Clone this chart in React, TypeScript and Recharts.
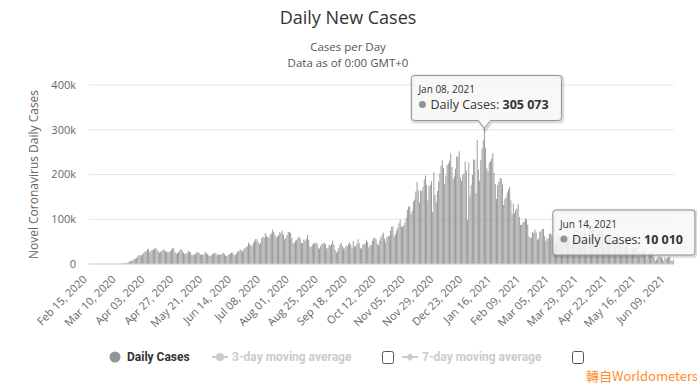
import { BarChart, Bar, XAxis, YAxis, CartesianGrid, ReferenceDot } from "recharts"

// first day shown in the chart, one bar per day after it
const START_DATE = Date.UTC(2020, 1, 15)
const MONTHS = ["Jan", "Feb", "Mar", "Apr", "May", "Jun", "Jul", "Aug", "Sep", "Oct", "Nov", "Dec"]

// daily new cases in thousands, one row per week (Sat..Fri)
const dailyCases = [
  0, 0, 0, 0, 0, 0, 0,
  0, 0, 0.02, 0, 0, 0.01, 0.01,
  0.01, 0.01, 0.02, 0.03, 0.03, 0.06, 0.07,
  0.13, 0.12, 0.18, 0.29, 0.43, 0.56, 0.89,
  0.8, 1.0, 1.8, 2.0, 3.8, 4.9, 5.9,
  7.1, 9.4, 10.5, 11.5, 13.2, 17.2, 19.6,
  19.5, 18.8, 21.6, 25.0, 27.1, 28.8, 32.4,
  34.0, 25.7, 29.6, 31.5, 32.2, 33.9, 35.5,
  31.9, 27.8, 25.3, 27.5, 29.5, 31.5, 33.0,
  28.9, 26.6, 27.0, 26.1, 29.0, 31.9, 36.0,
  35.0, 26.5, 22.4, 24.8, 26.9, 30.5, 33.4,
  29.1, 25.4, 22.6, 23.6, 24.5, 29.4, 27.2,
  25.8, 20.3, 19.3, 22.2, 21.6, 26.4, 26.3,
  24.6, 19.9, 21.8, 20.5, 21.7, 27.1, 24.2,
  22.0, 19.1, 18.6, 19.1, 22.3, 22.7, 25.5,
  24.0, 19.9, 21.5, 20.6, 20.6, 22.1, 24.9,
  22.6, 17.8, 18.4, 19.7, 22.5, 23.5, 25.8,
  25.1, 19.8, 20.2, 24.3, 27.7, 28.6, 31.7,
  32.0, 26.6, 31.7, 35.7, 38.2, 40.4, 47.3,
  44.5, 41.6, 40.4, 47.0, 51.7, 55.7, 55.4,
  49.2, 43.4, 47.0, 57.3, 61.7, 58.7, 69.0,
  62.7, 60.4, 58.6, 65.5, 68.8, 76.8, 71.6,
  64.6, 59.2, 62.1, 64.2, 71.0, 69.3, 74.8,
  66.1, 55.2, 58.8, 64.7, 72.2, 71.5, 69.1,
  57.9, 47.5, 46.8, 51.8, 53.9, 58.6, 61.0,
  56.7, 47.3, 46.5, 54.3, 51.9, 56.4, 64.6,
  54.1, 39.1, 38.8, 43.1, 46.2, 45.5, 48.7,
  45.0, 36.2, 34.2, 40.2, 44.5, 45.7, 47.6,
  43.9, 34.9, 36.5, 42.4, 40.8, 44.8, 51.9,
  43.0, 31.1, 25.2, 28.5, 35.9, 43.0, 47.6,
  40.1, 34.4, 34.6, 40.6, 39.4, 44.8, 49.3,
  43.1, 36.3, 52.0, 39.6, 39.6, 44.3, 55.4,
  46.3, 34.6, 35.3, 43.4, 44.3, 45.6, 54.4,
  49.0, 37.4, 41.1, 43.2, 52.0, 58.6, 58.3,
  54.5, 45.1, 42.1, 52.4, 59.1, 65.3, 70.0,
  56.6, 48.8, 59.2, 62.1, 62.9, 75.1, 83.8,
  83.7, 60.8, 66.8, 74.3, 80.2, 91.2, 99.3,
  83.4, 84.0, 86.3, 92.7, 104.0, 121.0, 129.0,
  128.0, 111.0, 119.0, 139.0, 144.0, 162.0, 183.0,
  165.0, 138.0, 164.0, 163.0, 172.0, 189.0, 198.0,
  177.0, 142.0, 174.0, 177.0, 185.0, 116.0, 205.0,
  154.0, 138.0, 163.0, 184.0, 203.0, 220.0, 232.0,
  214.0, 179.0, 197.0, 221.0, 225.0, 231.0, 247.0,
  217.0, 190.0, 196.0, 213.0, 240.0, 240.0, 252.0,
  194.0, 186.0, 199.0, 202.0, 229.0, 209.0, 99.0,
  226.0, 153.0, 177.0, 199.0, 234.0, 232.0, 158.0,
  277.0, 211.0, 186.0, 233.0, 258.0, 276.0, 305.073,
  260.0, 214.0, 207.0, 226.0, 230.0, 236.0, 248.0,
  204.0, 178.0, 145.0, 176.0, 183.0, 192.0, 191.0,
  178.0, 132.0, 145.0, 149.0, 160.0, 167.0, 172.0,
  142.0, 111.0, 135.0, 114.0, 121.0, 124.0, 134.0,
  105.0, 87.0, 88.0, 93.0, 95.0, 102.0, 100.0,
  88.0, 62.0, 58.0, 60.0, 72.0, 69.0, 77.0,
  71.0, 55.0, 57.0, 72.0, 73.0, 78.0, 78.0,
  62.0, 52.0, 57.0, 57.0, 67.0, 68.0, 65.0,
  58.0, 40.0, 45.0, 56.0, 58.0, 65.0, 60.0,
  54.0, 38.0, 52.0, 56.0, 59.0, 58.0, 63.0,
  50.0, 34.0, 57.0, 54.0, 86.0, 67.0, 77.0,
  63.0, 43.0, 69.0, 62.0, 66.0, 76.0, 70.0,
  54.0, 32.0, 77.0, 61.0, 75.0, 80.0, 79.0,
  64.0, 44.0, 70.0, 76.0, 74.0, 74.0, 77.0,
  49.0, 35.0, 68.0, 61.0, 62.0, 63.0, 63.0,
  47.0, 33.0, 53.0, 51.0, 55.0, 58.0, 56.0,
  39.0, 25.0, 45.0, 37.0, 45.0, 49.0, 48.0,
  30.0, 19.0, 34.0, 32.0, 37.0, 36.0, 37.0,
  25.0, 17.0, 27.0, 26.0, 29.0, 29.0, 31.0,
  22.0, 13.0, 23.0, 23.0, 26.0, 25.0, 21.0,
  14.0, 7.0, 10.0, 14.0, 17.0, 17.0, 15.0,
  12.0, 6.0, 14.0, 11.0, 14.0, 15.0, 16.0,
  8.0, 5.0, 10.01,
]

const yTicks = [0, 100, 200, 300, 400]

// tooltips that are shown open in the picture
const HIGHLIGHTS = ["Jan 08, 2021", "Jun 14, 2021"]

const fmtDate = (i: number) => {
  const d = new Date(START_DATE + i * 86400000)
  return `${MONTHS[d.getUTCMonth()]} ${String(d.getUTCDate()).padStart(2, "0")}, ${d.getUTCFullYear()}`
}

const rows = dailyCases.map((cases, i) => ({ date: fmtDate(i), cases }))
const valueOn = (date: string) => rows.find((r) => r.date === date)!.cases

const fmtCount = (v: number) =>
  String(Math.round(v * 1000)).replace(/\B(?=(\d{3})+(?!\d))/g, " ")

const BAR = "#949494"
const FONT = "'Open Sans', sans-serif"

function XTick({ x, y, payload }: any) {
  const tx = x - 2
  const ty = y + 16
  return (
    <text x={tx} y={ty} transform={`rotate(-45 ${tx} ${ty})`} textAnchor="end" fill="#666" fontSize={11} fontFamily={FONT}>
      {payload.value}
    </text>
  )
}

function YTitle({ viewBox }: any) {
  const x = viewBox.x + 33
  const y = viewBox.y + viewBox.height / 2
  return (
    <text x={x} y={y} transform={`rotate(-90 ${x} ${y})`} textAnchor="middle" dominantBaseline="central" fill="#666" fontSize={12} fontFamily={FONT}>
      Novel Coronavirus Daily Cases
    </text>
  )
}

function boxPath(x: number, y: number, w: number, h: number, px?: number) {
  const r = 3
  const b = y + h
  const bottom = px !== undefined ? `H${px + 6} L${px} ${b + 8} L${px - 6} ${b} ` : ""
  return `M${x + r} ${y} H${x + w - r} Q${x + w} ${y} ${x + w} ${y + r} V${b - r} Q${x + w} ${b} ${x + w - r} ${b} ${bottom}H${x + r} Q${x} ${b} ${x} ${b - r} V${y + r} Q${x} ${y} ${x + r} ${y} Z`
}

function TipBox({ cx, cy, date, value, dx, dy, w, pointer }: any) {
  const x = cx + dx
  const y = cy + dy
  const d = boxPath(x, y, w, 45, pointer ? cx : undefined)
  return (
    <g fontFamily={FONT}>
      <path d={d} transform="translate(1 1)" fill="none" stroke="#000" strokeOpacity={0.05} strokeWidth={5} />
      <path d={d} transform="translate(1 1)" fill="none" stroke="#000" strokeOpacity={0.1} strokeWidth={3} />
      <path d={d} fill="rgba(247,247,247,0.85)" stroke={BAR} strokeWidth={1} />
      <text x={x + 7} y={y + 17.5} fontSize={10} fill="#333">{date}</text>
      <circle cx={x + 11} cy={y + 29} r={3.5} fill={BAR} />
      <text x={x + 19} y={y + 34} fontSize={12.5} fill="#333">
        Daily Cases: <tspan fontWeight="bold">{fmtCount(value)}</tspan>
      </text>
    </g>
  )
}

function Overlay() {
  return (
    <svg width={697} height={388} style={{ position: "absolute", left: 0, top: 0, pointerEvents: "none" }}>
      <text x={348} y={24} textAnchor="middle" fontSize={18} fill="#333" fontFamily={FONT}>Daily New Cases</text>
      <text x={348} y={51} textAnchor="middle" fontSize={11.5} fill="#555" fontFamily={FONT}>Cases per Day</text>
      <text x={348} y={67} textAnchor="middle" fontSize={11.5} fill="#555" fontFamily={FONT}>Data as of 0:00 GMT+0</text>
      <g fontFamily="Roboto, sans-serif" fontSize={12} fontWeight="bold">
        <circle cx={115} cy={357} r={5.5} fill={BAR} />
        <text x={127} y={361} fill="#333">Daily Cases</text>
        <line x1={212} x2={228} y1={357} y2={357} stroke="#ccc" strokeWidth={2} />
        <circle cx={220} cy={357} r={4} fill="#ccc" />
        <text x={232} y={361} fill="#ccc">3-day moving average</text>
        <rect x={382.5} y={351.5} width={11} height={12} rx={2} fill="#fff" stroke="#555" />
        <line x1={402} x2={418} y1={357} y2={357} stroke="#ccc" strokeWidth={2} />
        <path d="M410 353 L414 357 L410 361 L406 357 Z" fill="#ccc" />
        <text x={422} y={361} fill="#ccc">7-day moving average</text>
        <rect x={572.5} y={351.5} width={11} height={12} rx={2} fill="#fff" stroke="#555" />
      </g>
      <text x={586} y={381} fontSize={13} fill="#ff8c2a" fontFamily="'Noto Sans CJK TC', sans-serif">轉自Worldometers</text>
    </svg>
  )
}

export default function App() {
  return (
    <div style={{ position: "relative", width: 697, height: 388, background: "#fff" }}>
      <style>{"body{margin:0}"}</style>
      <BarChart width={697} height={388} data={rows} margin={{ top: 85, right: 23, bottom: 64, left: 0 }} barCategoryGap="12%">
        <CartesianGrid vertical={false} stroke="#e6e6e6" />
        <XAxis
          dataKey="date"
          interval={23}
          height={60}
          tickSize={0}
          tickMargin={0}
          tickLine={false}
          axisLine={{ stroke: "#ccd6eb" }}
          tick={<XTick />}
        />
        <YAxis
          width={89}
          domain={[0, 400]}
          ticks={yTicks}
          tickFormatter={(v: number) => (v === 0 ? "0" : `${v}k`)}
          axisLine={false}
          tickLine={false}
          tickSize={0}
          tickMargin={13}
          tick={{ fill: "#666", fontSize: 11, fontFamily: FONT }}
          label={<YTitle />}
        />
        <Bar dataKey="cases" fill={BAR} isAnimationActive={false} />
        <ReferenceDot
          x={HIGHLIGHTS[0]}
          y={valueOn(HIGHLIGHTS[0])}
          shape={(p: any) => (
            <TipBox cx={p.cx} cy={p.cy} date={HIGHLIGHTS[0]} value={valueOn(HIGHLIGHTS[0])} dx={-73} dy={-52} w={150} pointer />
          )}
        />
        <ReferenceDot
          x={HIGHLIGHTS[1]}
          y={valueOn(HIGHLIGHTS[1])}
          shape={(p: any) => (
            <TipBox cx={p.cx} cy={p.cy} date={HIGHLIGHTS[1]} value={valueOn(HIGHLIGHTS[1])} dx={-120.5} dy={-49.5} w={142} />
          )}
        />
      </BarChart>
      <Overlay />
    </div>
  )
}
